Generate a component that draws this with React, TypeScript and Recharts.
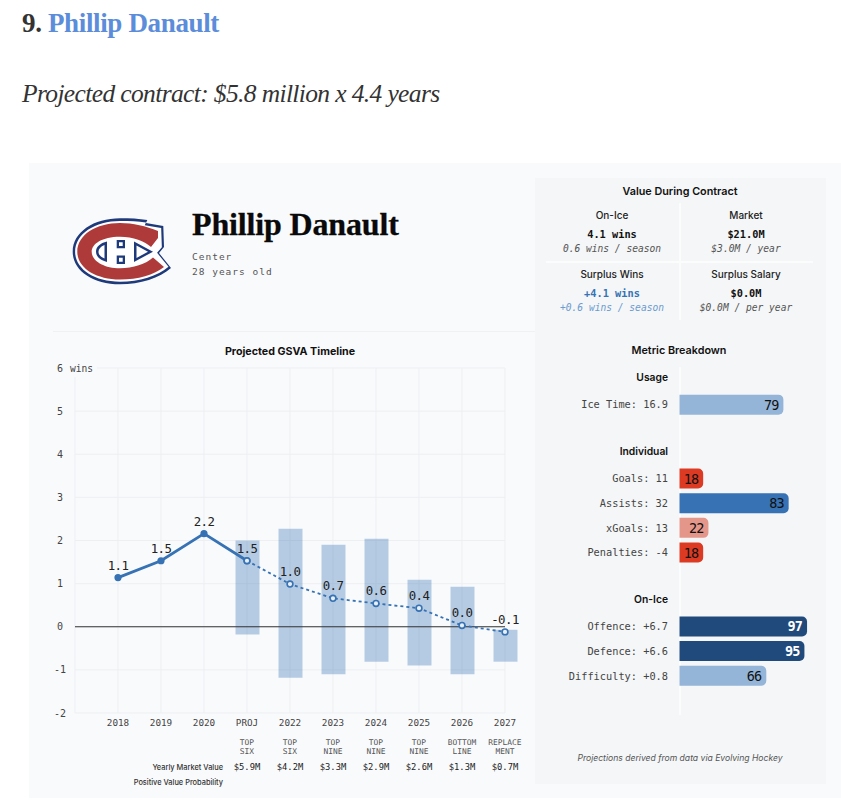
import { Bar, BarChart, Cell, CartesianGrid, ComposedChart, LabelList, Line, ReferenceLine, XAxis, YAxis } from "recharts";

const MONO = "'DejaVu Sans Mono', monospace";
const SANS = "Inter, sans-serif";
const SERIF = "'Liberation Serif', serif";

const seasons = ["2018", "2019", "2020", "PROJ", "2022", "2023", "2024", "2025", "2026", "2027"];
const actual = [1.14, 1.53, 2.16, 1.53, null, null, null, null, null, null];
const projected = [null, null, null, 1.53, 0.99, 0.66, 0.54, 0.43, 0.03, -0.12];
const rangeLow = [null, null, null, -0.18, -1.18, -1.1, -0.81, -0.9, -1.1, -0.81];
const rangeHigh = [null, null, null, 2.0, 2.27, 1.9, 2.04, 1.09, 0.93, -0.07];
const pointLabels = ["1.1", "1.5", "2.2", "1.5", "1.0", "0.7", "0.6", "0.4", "0.0", "-0.1"];
const roles = [[], [], [], ["TOP", "SIX"], ["TOP", "SIX"], ["TOP", "NINE"], ["TOP", "NINE"], ["TOP", "NINE"], ["BOTTOM", "LINE"], ["REPLACE", "MENT"]];
const marketValues = ["", "", "", "$5.9M", "$4.2M", "$3.3M", "$2.9M", "$2.6M", "$1.3M", "$0.7M"];
const yTicks = [-2, -1, 0, 1, 2, 3, 4, 5, 6];

const timeline = seasons.map((season, i) => ({
  season,
  actual: actual[i],
  projected: projected[i],
  range: rangeLow[i] === null ? null : [rangeLow[i], rangeHigh[i]],
  label: pointLabels[i],
}));

const metricNames = ["Usage", "Ice Time: 16.9", " ", "Individual", "Goals: 11", "Assists: 32", "xGoals: 13", "Penalties: -4", "  ", "On-Ice", "Offence: +6.7", "Defence: +6.6", "Difficulty: +0.8", "   "];
const metricScores = [null, 79, null, null, 18, 83, 22, 18, null, null, 97, 95, 66, null];
const metricColors = ["", "#94B4D8", "", "", "#DC3A22", "#3672B4", "#E5968A", "#DC3A22", "", "", "#204A7C", "#204A7C", "#94B4D8", ""];
const metricHeadings = ["Usage", "Individual", "On-Ice"];

const metrics = metricNames.map((name, i) => ({ name, score: metricScores[i] }));

function YearTick({ x, payload }: any) {
  const i = seasons.indexOf(payload.value);
  return (
    <g fontFamily={MONO} textAnchor="middle" fill="#444">
      <text x={x} y={726} fontSize={9.3}>{payload.value}</text>
      {roles[i].map((line, n) => (
        <text key={n} x={x} y={745 + n * 9} fontSize={7.9} fill="#555">{line}</text>
      ))}
      <text x={x} y={770} fontSize={8.8} fill="#222">{marketValues[i]}</text>
    </g>
  );
}

function WinsTick({ y, payload }: any) {
  return (
    <g fontFamily={MONO} fontSize={10} fill="#444">
      {payload.value === 6 && <rect x={67} y={359} width={30} height={18} fill="#F9FAFC" />}
      <text x={60} y={y + 3.5} textAnchor="middle">{payload.value}</text>
      {payload.value === 6 && <text x={70} y={y + 3.5} fontSize={9.6}>wins</text>}
    </g>
  );
}

function MetricTick({ y, payload }: any) {
  const heading = metricHeadings.includes(payload.value);
  return (
    <text
      x={668}
      y={heading ? y + 0.5 : y + 3.5}
      textAnchor="end"
      fontFamily={heading ? SANS : MONO}
      fontSize={10.3}
      fontWeight={heading ? 600 : 400}
      fill={heading ? "#111" : "#444"}
    >
      {payload.value}
    </text>
  );
}

function ScoreLabel({ x, y, width, height, value }: any) {
  if (value === null || value === undefined) return null;
  const white = value >= 95;
  return (
    <text
      x={x + width - 5}
      y={y + height / 2 + 5}
      textAnchor="end"
      fontFamily={MONO}
      fontSize={13.5}
      letterSpacing={-0.9}
      fontWeight={white ? 700 : 400}
      fill={white ? "#fff" : "#111"}
    >
      {value}
    </text>
  );
}

function Txt({ x, y, w, children, style }: any) {
  return (
    <div style={{ position: "absolute", left: x - w / 2, top: y, width: w, textAlign: "center", whiteSpace: "nowrap", lineHeight: 1, ...style }}>
      {children}
    </div>
  );
}

function ValueCell({ x, y, head, value, sub, color, subColor }: any) {
  return (
    <>
      <Txt x={x} y={y} w={130} style={{ fontFamily: SANS, fontSize: 10, fontWeight: 500, color: "#222" }}>{head}</Txt>
      <Txt x={x} y={y + 19} w={130} style={{ fontFamily: MONO, fontSize: 10.3, fontWeight: 700, color }}>{value}</Txt>
      <Txt x={x} y={y + 33.5} w={130} style={{ fontFamily: MONO, fontSize: 9.6, fontStyle: "italic", color: subColor }}>{sub}</Txt>
    </>
  );
}

const LOGO_OUTLINE = "M147.3 220 L146 223 L163.3 226 L164 247 L159 253 L171 268 C160 278 140 284.3 120 284.3 C92 284.3 72.7 270 72.7 251.7 C72.7 232 94 218.3 120 218.3 C130 218.3 139 218.7 147.3 220 Z";

function Logo() {
  return (
    <svg style={{ position: "absolute", left: 60, top: 205 }} width={120} height={90} viewBox="60 205 120 90">
      <path d={LOGO_OUTLINE} fill="#1F3A7A" />
      <path d={LOGO_OUTLINE} fill="#fff" transform="translate(121 251) scale(0.95 0.92) translate(-121 -251)" />
      <path d="M158 231 L158 238 L151 247 C145 241 133 236.7 120 236.7 C102 236.7 91.7 244 91.7 251.7 C91.7 261 104 268.3 120 268.3 C133 268.3 146 264 153 257.5 L164 267 C154 275 138 279.5 120 279.5 C96 279.5 77.3 268 77.3 251.7 C77.3 235 96 223 120 223 C133 223 146 226 158 231 Z" fill="#AF3A3A" />
      <path d="M107 241.5 C100 243 96 247 96 251.7 C96 256.5 100 260 107 262 Z M104.5 245 L104.5 258.5 C100.5 257 98.5 254.5 98.5 251.7 C98.5 249 100.5 246.5 104.5 245 Z" fill="#1F3A7A" fillRule="evenodd" />
      <path d="M116.7 240 H125 V248.3 H116.7 Z M119 242.3 V246 H122.7 V242.3 Z M116.7 255.5 H125 V264 H116.7 Z M119 257.8 V261.7 H122.7 V257.8 Z" fill="#1F3A7A" fillRule="evenodd" />
      <path d="M134 241.5 L153 251.7 L134 262 Z M136.5 245.5 V258 L148 251.7 Z" fill="#1F3A7A" fillRule="evenodd" />
    </svg>
  );
}

export default function App() {
  return (
    <div style={{ position: "absolute", left: 0, top: 0, width: 841, height: 800, background: "#fff", overflow: "hidden" }}>
      <div style={{ position: "absolute", left: 22, top: 9, fontFamily: SERIF, fontSize: 27, fontWeight: 700, letterSpacing: -0.35, lineHeight: 1.1, color: "#333", whiteSpace: "nowrap" }}>
        9. <span style={{ color: "#5B8DDB" }}>Phillip Danault</span>
      </div>
      <div style={{ position: "absolute", left: 22, top: 80, fontFamily: SERIF, fontSize: 25.5, fontStyle: "italic", letterSpacing: -0.63, lineHeight: 1.1, color: "#333", whiteSpace: "nowrap" }}>
        Projected contract: $5.8 million x 4.4 years
      </div>

      <div style={{ position: "absolute", left: 29, top: 163, width: 812, height: 635, background: "#F9FAFC" }} />
      <div style={{ position: "absolute", left: 535, top: 178, width: 291, height: 606, background: "#F4F6F7" }} />
      <div style={{ position: "absolute", left: 53, top: 331, width: 482, height: 1, background: "#EFF1F3" }} />
      <div style={{ position: "absolute", left: 679, top: 203, width: 2, height: 117, background: "#FBFCFC" }} />
      <div style={{ position: "absolute", left: 546, top: 261, width: 267, height: 2, background: "#FBFCFC" }} />
      <div style={{ position: "absolute", left: 678.5, top: 367, width: 2, height: 348, background: "#FBFCFC" }} />

      <Logo />
      <div style={{ position: "absolute", left: 192, top: 207, fontFamily: SERIF, fontSize: 32, fontWeight: 700, letterSpacing: -0.15, WebkitTextStroke: "0.3px #0a0a0a", lineHeight: 1.1, color: "#0a0a0a", whiteSpace: "nowrap" }}>
        Phillip Danault
      </div>
      <div style={{ position: "absolute", left: 192, top: 249, fontFamily: MONO, fontSize: 9.5, letterSpacing: 1, lineHeight: "15px", color: "#555", whiteSpace: "pre" }}>
        {"Center\n28 years old"}
      </div>

      <Txt x={290} y={347} w={300} style={{ fontFamily: SANS, fontSize: 10.7, fontWeight: 700, color: "#111" }}>Projected GSVA Timeline</Txt>
      <Txt x={680} y={186.5} w={260} style={{ fontFamily: SANS, fontSize: 10.8, fontWeight: 600, color: "#111" }}>Value During Contract</Txt>
      <Txt x={679} y={346} w={260} style={{ fontFamily: SANS, fontSize: 10.8, fontWeight: 600, color: "#111" }}>Metric Breakdown</Txt>

      <ValueCell x={612} y={210} head="On-Ice" value="4.1 wins" sub="0.6 wins / season" color="#111" subColor="#555" />
      <ValueCell x={746} y={210} head="Market" value="$21.0M" sub="$3.0M / year" color="#111" subColor="#555" />
      <ValueCell x={612} y={269} head="Surplus Wins" value="+4.1 wins" sub="+0.6 wins / season" color="#3672B4" subColor="#6C9BD0" />
      <ValueCell x={746} y={269} head="Surplus Salary" value="$0.0M" sub="$0.0M / per year" color="#111" subColor="#555" />

      <div style={{ position: "absolute", left: 60, width: 163, textAlign: "right", top: 763, fontFamily: SANS, fontSize: 7.4, fontWeight: 500, color: "#333", whiteSpace: "nowrap", lineHeight: "9px" }}>Yearly Market Value</div>
      <div style={{ position: "absolute", left: 60, width: 163, textAlign: "right", top: 778, fontFamily: SANS, fontSize: 7.4, fontWeight: 500, color: "#333", whiteSpace: "nowrap", lineHeight: "9px" }}>Positive Value Probability</div>
      <Txt x={680} y={754} w={260} style={{ fontFamily: SANS, fontSize: 8.6, fontStyle: "italic", color: "#555" }}>Projections derived from data via Evolving Hockey</Txt>

      <div style={{ position: "absolute", left: 0, top: 0 }}>
        <ComposedChart width={560} height={800} data={timeline} margin={{ top: 368, right: 55, bottom: 27, left: 35 }}>
          <CartesianGrid stroke="#EDEFF2" strokeWidth={1} />
          <XAxis dataKey="season" scale="point" padding={{ left: 43, right: 0 }} height={60} axisLine={false} tickLine={false} interval={0} tick={<YearTick />} />
          <YAxis width={40} domain={[-2, 6]} ticks={yTicks} axisLine={false} tickLine={false} interval={0} tick={<WinsTick />} />
          <Bar dataKey="range" barSize={24} fill="#3672B4" fillOpacity={0.35} isAnimationActive={false} />
          <ReferenceLine y={0} stroke="#333" strokeWidth={1.2} />
          <Line dataKey="actual" stroke="#3672B4" strokeWidth={2.8} dot={{ r: 2.2, fill: "#3672B4", stroke: "#3672B4" }} connectNulls={false} isAnimationActive={false} />
          <Line dataKey="projected" stroke="#3672B4" strokeWidth={1.8} strokeDasharray="3 3" dot={{ r: 2.9, fill: "#E8EFF6", stroke: "#3672B4", strokeWidth: 1.6, strokeDasharray: "" }} connectNulls={false} isAnimationActive={false} />
          <Line dataKey={(d: any) => d.actual ?? d.projected} stroke="none" dot={false} isAnimationActive={false}>
            <LabelList dataKey="label" position="top" offset={8} style={{ fontFamily: MONO, fontSize: 12.4, letterSpacing: -0.55, fill: "#222" }} />
          </Line>
        </ComposedChart>
      </div>

      <div style={{ position: "absolute", left: 0, top: 0 }}>
        <BarChart width={841} height={800} layout="vertical" data={metrics} barCategoryGap={0} margin={{ top: 368, right: 30, bottom: 87, left: 599.5 }}>
          <XAxis type="number" domain={[0, 100]} hide />
          <YAxis type="category" dataKey="name" width={80} axisLine={false} tickLine={false} interval={0} tick={<MetricTick />} />
          <Bar dataKey="score" barSize={20} radius={[0, 5, 5, 0]} isAnimationActive={false}>
            {metrics.map((m, i) => (
              <Cell key={m.name} fill={metricColors[i] || "none"} />
            ))}
            <LabelList dataKey="score" content={<ScoreLabel />} />
          </Bar>
        </BarChart>
      </div>
    </div>
  );
}
